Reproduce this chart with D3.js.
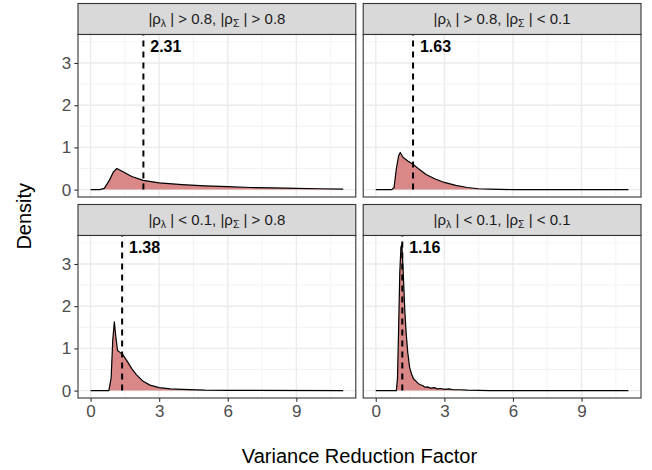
<!DOCTYPE html>
<html>
<head>
<meta charset="utf-8">
<script src="https://cdn.jsdelivr.net/npm/d3@7"></script>
<style>
  body { margin: 0; background: #fff; }
  text { font-family: "Liberation Sans", Arial, Helvetica, sans-serif; }
</style>
</head>
<body>
<script>
// Datos
var lambdaCond = ["> 0.8", "> 0.8", "< 0.1", "< 0.1"];
var sigmaCond = ["> 0.8", "< 0.1", "> 0.8", "< 0.1"];
var meanVRF = [2.31, 1.63, 1.38, 1.16];

var p1X = [0, 0.4, 0.6, 0.8, 1.0, 1.15, 1.4, 1.8, 2.3, 3, 4, 5, 6, 7, 8, 9, 10, 11.05];
var p1Y = [0, 0, 0.03, 0.2, 0.42, 0.5, 0.43, 0.31, 0.22, 0.16, 0.12, 0.09, 0.07, 0.05, 0.04, 0.03, 0.02, 0.01];

var p2X = [0, 0.7, 0.8, 0.9, 1.0, 1.07, 1.2, 1.4, 1.63, 1.9, 2.2, 2.6, 3.0, 3.5, 4.0, 4.5, 5, 6, 11.05];
var p2Y = [0, 0, 0.05, 0.5, 0.8, 0.88, 0.76, 0.68, 0.6, 0.48, 0.36, 0.25, 0.17, 0.1, 0.05, 0.02, 0.01, 0, 0];

var p3X = [0, 0.8, 0.9, 0.97, 1.04, 1.1, 1.18, 1.3, 1.4, 1.6, 1.8, 2.0, 2.3, 2.6, 3.0, 3.5, 4, 5, 6, 11.05];
var p3Y = [0, 0, 0.3, 1.2, 1.63, 1.3, 0.95, 0.9, 0.86, 0.7, 0.52, 0.38, 0.22, 0.13, 0.07, 0.04, 0.03, 0.01, 0.005, 0];

var p4X = [0, 0.9, 0.95, 1.0, 1.05, 1.1, 1.14, 1.2, 1.27, 1.33, 1.4, 1.48, 1.56, 1.65, 1.77, 1.85, 1.95, 2.05, 2.15, 2.25, 2.4, 2.55, 2.7, 2.85, 3.0, 3.2, 3.4, 3.7, 4.0, 5, 11.05];
var p4Y = [0, 0, 0.3, 1.5, 2.8, 3.4, 3.46, 2.8, 1.9, 1.35, 0.9, 0.55, 0.4, 0.28, 0.22, 0.17, 0.14, 0.12, 0.08, 0.09, 0.06, 0.07, 0.04, 0.05, 0.03, 0.04, 0.02, 0.02, 0.01, 0, 0];

var xTicks = [0, 3, 6, 9];
var yTicks = [0, 1, 2, 3];
var xMinor = [1.5, 4.5, 7.5, 10.5];
var yMinor = [0.5, 1.5, 2.5, 3.5];

var curvesX = [p1X, p2X, p3X, p4X];
var curvesY = [p1Y, p2Y, p3Y, p4Y];

// Dimensiones
var W = 652, H = 470;
var marginL = 78, marginT = 3.5;
var panelW = 277.8, panelH = 162.5, stripH = 31, gapX = 7.4, gapY = 7.5;

var svg = d3.select("body").append("svg")
    .attr("width", W)
    .attr("height", H);

var x = d3.scaleLinear().domain([-0.55, 11.6]).range([0, panelW]);
var y = d3.scaleLinear().domain([-0.175, 3.675]).range([panelH, 0]);

var area = d3.area()
    .x(d => x(d[0]))
    .y0(y(0))
    .y1(d => y(d[1]));

var line = d3.line()
    .x(d => x(d[0]))
    .y(d => y(d[1]));

meanVRF.forEach(function(m, i) {
    var col = i % 2, row = Math.floor(i / 2);
    var gx = marginL + col * (panelW + gapX);
    var gy = marginT + row * (stripH + panelH + gapY);

    // Tira del titulo
    var strip = svg.append("g").attr("transform", "translate(" + gx + "," + gy + ")");
    strip.append("rect")
        .attr("width", panelW).attr("height", stripH)
        .attr("fill", "#D9D9D9").attr("stroke", "#333333").attr("stroke-width", 1.1);
    var t = strip.append("text")
        .attr("x", panelW / 2).attr("y", stripH / 2 + 5)
        .attr("text-anchor", "middle")
        .attr("fill", "#1A1A1A")
        .style("font-size", "15px");
    t.append("tspan").text("|\u03C1");
    t.append("tspan").attr("dy", 3).style("font-size", "10.5px").text("\u03BB");
    t.append("tspan").attr("dy", -3).text(" | " + lambdaCond[i] + ", |\u03C1");
    t.append("tspan").attr("dy", 3).style("font-size", "10.5px").text("\u03A3");
    t.append("tspan").attr("dy", -3).text(" | " + sigmaCond[i]);

    // Panel
    var g = svg.append("g").attr("transform", "translate(" + gx + "," + (gy + stripH) + ")");
    g.append("rect").attr("width", panelW).attr("height", panelH).attr("fill", "#fff");

    g.selectAll(".vminor").data(xMinor).enter().append("line")
        .attr("x1", d => x(d)).attr("x2", d => x(d))
        .attr("y1", 0).attr("y2", panelH)
        .attr("stroke", "#F0F0F0").attr("stroke-width", 0.8);
    g.selectAll(".hminor").data(yMinor).enter().append("line")
        .attr("y1", d => y(d)).attr("y2", d => y(d))
        .attr("x1", 0).attr("x2", panelW)
        .attr("stroke", "#F0F0F0").attr("stroke-width", 0.8);
    g.selectAll(".vmajor").data(xTicks).enter().append("line")
        .attr("x1", d => x(d)).attr("x2", d => x(d))
        .attr("y1", 0).attr("y2", panelH)
        .attr("stroke", "#EBEBEB").attr("stroke-width", 1.4);
    g.selectAll(".hmajor").data(yTicks).enter().append("line")
        .attr("y1", d => y(d)).attr("y2", d => y(d))
        .attr("x1", 0).attr("x2", panelW)
        .attr("stroke", "#EBEBEB").attr("stroke-width", 1.4);

    var pts = curvesX[i].map((v, k) => [v, curvesY[i][k]]);
    g.append("path").datum(pts).attr("d", area).attr("fill", "#D98787");
    g.append("path").datum(pts).attr("d", line)
        .attr("fill", "none").attr("stroke", "#000").attr("stroke-width", 1.2)
        .attr("stroke-linejoin", "round");

    // Linea de la media
    g.append("line")
        .attr("x1", x(m)).attr("x2", x(m))
        .attr("y1", y(0)).attr("y2", 0)
        .attr("stroke", "#000").attr("stroke-width", 2)
        .attr("stroke-dasharray", "6,5");
    g.append("text")
        .attr("x", x(m + 0.3)).attr("y", y(3.4))
        .attr("dy", "0.35em")
        .attr("fill", "#000")
        .style("font-size", "16px").style("font-weight", "bold")
        .text(m.toFixed(2));

    g.append("rect").attr("width", panelW).attr("height", panelH)
        .attr("fill", "none").attr("stroke", "#333333").attr("stroke-width", 1.1);

    // Ejes
    if (col === 0) {
        var ay = g.append("g").call(d3.axisLeft(y).tickValues(yTicks).tickFormat(d3.format("d"))
            .tickSize(3.7).tickPadding(3));
        ay.select(".domain").remove();
        ay.selectAll("line").attr("stroke", "#333333").attr("stroke-width", 1.1);
        ay.selectAll("text").attr("fill", "#4D4D4D").style("font-size", "17px");
    }
    if (row === 1) {
        var ax = g.append("g").attr("transform", "translate(0," + panelH + ")")
            .call(d3.axisBottom(x).tickValues(xTicks).tickFormat(d3.format("d"))
                .tickSize(3.7).tickPadding(3));
        ax.select(".domain").remove();
        ax.selectAll("line").attr("stroke", "#333333").attr("stroke-width", 1.1);
        ax.selectAll("text").attr("fill", "#4D4D4D").style("font-size", "17px");
    }
});

// Titulos de los ejes
svg.append("text")
    .attr("x", marginL + panelW + gapX / 2).attr("y", 463)
    .attr("text-anchor", "middle")
    .style("font-size", "20px")
    .text("Variance Reduction Factor");

svg.append("text")
    .attr("transform", "translate(31," + (marginT + stripH + (2 * panelH + stripH + gapY) / 2) + ") rotate(-90)")
    .attr("text-anchor", "middle")
    .style("font-size", "20px")
    .text("Density");
</script>
</body>
</html>
